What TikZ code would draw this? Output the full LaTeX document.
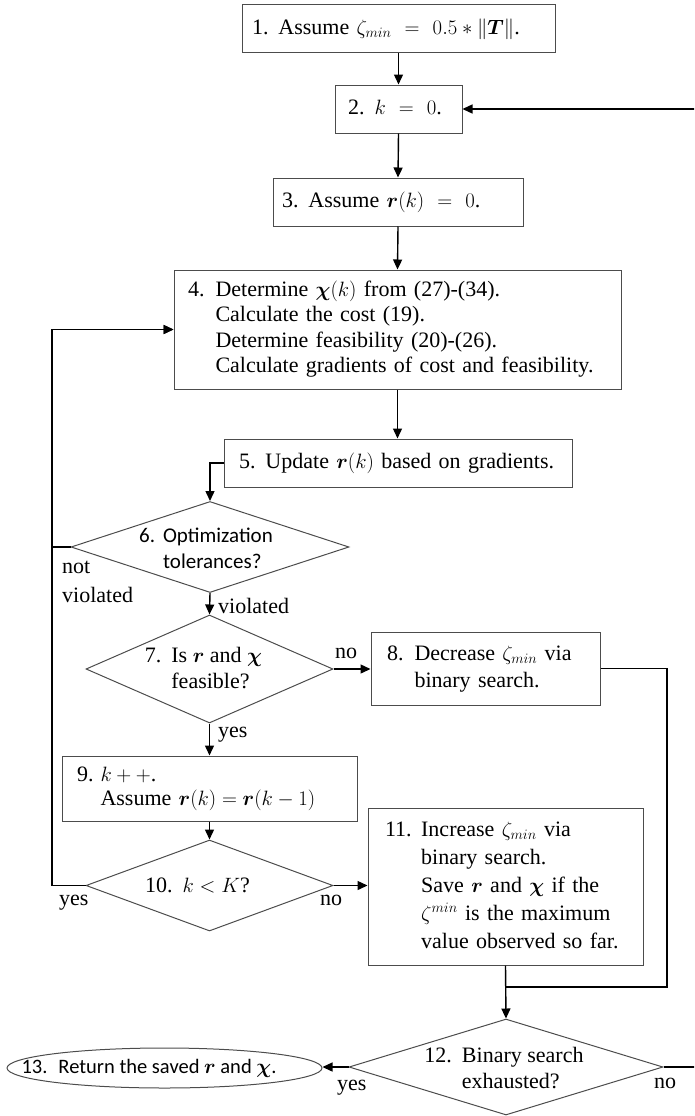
\documentclass[tikz,border=0pt]{standalone}
\usepackage{amsmath}
\usepackage{bm}
\usepackage{fontspec}
\setmainfont{Liberation Serif}
\newfontfamily\carl{Carlito}
\usetikzlibrary{shapes.geometric,arrows.meta}
\definecolor{boxc}{gray}{0.3}
\newcommand{\stp}[3][10pt]{\begin{tabular}{@{}l@{\hspace{#1}}l@{}}#2&#3\end{tabular}}
\newcommand{\zc}[3]{\makebox[0pt]{\hspace*{#1}\raisebox{#2}[0pt][0pt]{#3}}}
\tikzset{
  box/.style={draw=boxc, line width=1pt, rectangle, inner ysep=0pt, align=left,
    font=\fontsize{22}{25.5}\selectfont},
  dia/.style={draw=boxc, line width=1pt, diamond, inner sep=0pt,
    font=\fontsize{22}{26}\selectfont},
  conn/.style={line width=1.4pt, draw=black},
  arr/.style={conn, -{Triangle[length=10pt,width=9pt]}},
  lbl/.style={inner sep=0pt, font=\fontsize{22}{26}\selectfont},
}
\begin{document}
\begin{tikzpicture}[x=1pt,y=-1pt]
\useasboundingbox (0,0) rectangle (694,1116);
\clip (0,0) rectangle (694,1116);

% boxes
\node[box, minimum width=313pt, minimum height=48pt, inner xsep=10pt, text width=293pt] (b1) at (398.5,29)
  {\stp{1.}{Assume $\zeta_{min}\ =\ 0.5 * \|\bm{T}\|$.}};
\node[box, minimum width=127pt, minimum height=48pt, inner xsep=13pt, text width=101pt] (b2) at (398.5,109)
  {\stp{2.}{$k\ =\ 0$.}};
\node[box, minimum width=250pt, minimum height=48pt, inner xsep=9pt, text width=232pt] (b3) at (398,202)
  {\stp{3.}{Assume $\bm{r}(k)\ =\ 0$.}};
\node[box, minimum width=447pt, minimum height=119pt, inner xsep=14pt, text width=419pt] (b4) at (397.5,329.5)
  {\stp[11pt]{4.}{Determine $\bm{\chi}(k)$ from (27)-(34).\\
   & Calculate the cost (19).\\
   & Determine feasibility (20)-(26).\\
   & Calculate gradients of cost and feasibility.}};
\node[box, minimum width=348pt, minimum height=48pt, inner xsep=15pt, text width=318pt] (b5) at (398,463)
  {\stp{5.}{Update $\bm{r}(k)$ based on gradients.}};
\node[box, minimum width=229pt, minimum height=73pt, inner xsep=16pt, text width=197pt,
  font=\fontsize{22}{27}\selectfont] (b8) at (485.5,668.5)
  {\stp[11pt]{8.}{Decrease $\zeta_{min}$ via\\ & binary search.}};
\node[box, minimum width=295pt, minimum height=65pt, inner xsep=15pt, text width=265pt,
  font=\fontsize{22}{24.5}\selectfont] (b9) at (209.5,788.5)
  {\stp[7pt]{9.}{$k++$.\\ & Assume $\bm{r}(k) = \bm{r}(k-1)$}};
\node[box, minimum width=275pt, minimum height=157pt, inner xsep=17pt, text width=241pt,
  font=\fontsize{22}{28}\selectfont] (b11) at (505.5,886.5)
  {\stp[9.5pt]{11.}{Increase $\zeta_{min}$ via\\
   & binary search.\\
   & Save $\bm{r}$ and $\bm{\chi}$ if the\\
   & $\zeta^{min}$ is the maximum\\
   & value observed so far.}};

% diamonds
\node[dia, minimum width=278pt, minimum height=91pt, font=\carl\fontsize{21}{26}\selectfont] (d6) at (210,547)
  {\zc{-8pt}{-8.5pt}{\stp[8pt]{6.}{Optimization\\ & tolerances?}}};
\node[dia, minimum width=247pt, minimum height=108pt] (d7) at (209.5,669)
  {\zc{-12pt}{-6.5pt}{\stp[10pt]{7.}{Is $\bm{r}$ and $\bm{\chi}$\\ & feasible?}}};
\node[dia, minimum width=247pt, minimum height=91pt] (d10) at (209.5,885.5)
  {\zc{-24pt}{-7pt}{\stp[10pt]{10.}{$k < K$?}}};
\node[dia, minimum width=314pt, minimum height=96pt] (d12) at (506,1067)
  {\zc{-4pt}{-8.5pt}{\stp[10pt]{12.}{Binary search\\ & exhausted?}}};

% terminal
\node[draw=boxc, line width=1pt, ellipse, minimum width=315pt, minimum height=40pt, inner sep=0pt,
  font=\carl\fontsize{20.5}{26}\selectfont] (e13) at (164.5,1068)
  {\zc{-31pt}{-5pt}{13.\hspace{11pt}Return the saved $\bm{r}$ and $\bm{\chi}$.}};

% helper coordinates
\coordinate (lx) at (52,330);
\coordinate (rx) at (667,987);
\coordinate (j) at (b11.south |- rx);
\coordinate (rr) at (698,109);

% connectors
\draw[arr] (b1.south) -- (b2.north);
\draw[arr] (b2.south) -- (b3.north);
\draw[arr] (b3.south) -- (b4.north);
\draw[arr] (b4.south) -- (b4.south |- b5.north);
\draw[arr] (b5.west) -| (d6.north);
\draw[arr] (d6.west) -- (d6.west -| lx) |- (b4.west);
\draw[arr] (d10.west) -- (d10.west -| lx) |- (b4.west);
\draw[arr] (d6.south) -- (d7.north);
\draw[arr] (d7.east) -- (d7.east -| b8.west);
\draw[arr] (d7.south) -- (d7.south |- b9.north);
\draw[arr] (b9.south) -- (b9.south |- d10.north);
\draw[arr] (d10.east) -- (d10.east -| b11.west);
\draw[conn] (b8.east) -| (rx) -- (j);
\draw[arr] (b11.south) -- (d12.north);
\draw[arr] (d12.west) -- (d12.west -| e13.east);
\draw[arr] (d12.east) -| (rr) -- (b2.east);

% labels
\node[lbl, anchor=base west] (lnot) at (62,573) {not};
\node[lbl, anchor=base west] (lnv) at (62,602) {violated};
\node[lbl, anchor=base west] (lv) at (218,613) {violated};
\node[lbl, anchor=base west] (lno7) at (335,658) {no};
\node[lbl, anchor=base west] (lyes7) at (218,737) {yes};
\node[lbl, anchor=base west] (lyes10) at (59,905) {yes};
\node[lbl, anchor=base west] (lno10) at (320,905) {no};
\node[lbl, anchor=base west] (lyes12) at (337,1090) {yes};
\node[lbl, anchor=base west] (lno12) at (654,1088) {no};
\end{tikzpicture}
\end{document}
